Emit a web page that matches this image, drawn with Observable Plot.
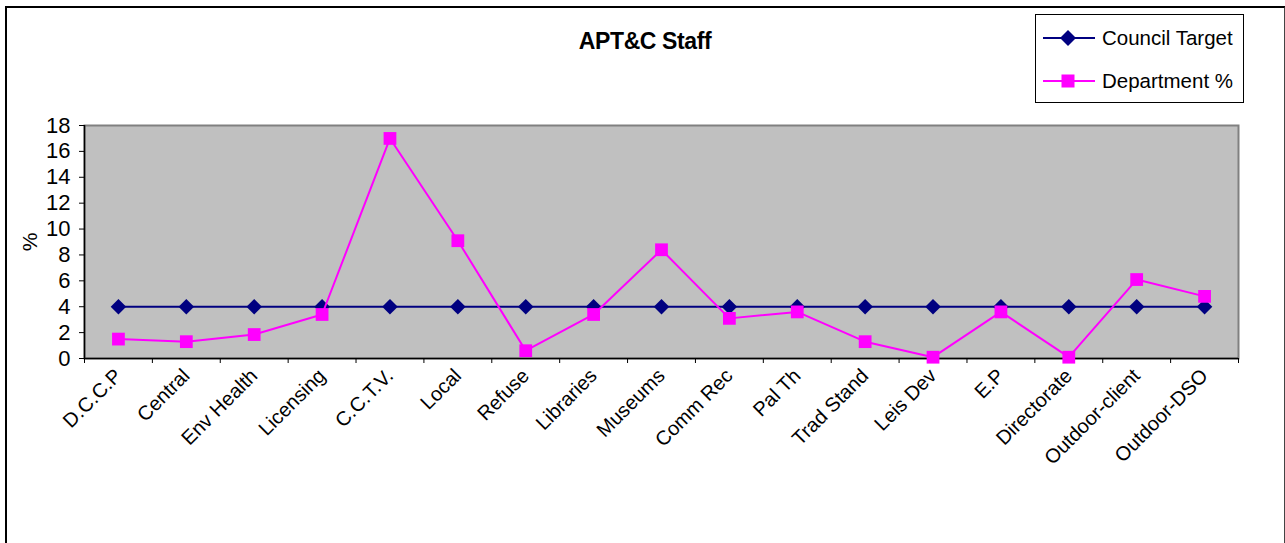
<!DOCTYPE html>
<html>
<head>
<meta charset="utf-8">
<script src="https://cdn.jsdelivr.net/npm/d3@7"></script>
<script src="https://cdn.jsdelivr.net/npm/@observablehq/plot@0.6"></script>
<style>
  html, body { margin: 0; padding: 0; background: #fff; overflow: hidden; }
  #wrap { position: relative; width: 1285px; height: 543px; font-family: "Liberation Sans", Arial, sans-serif; }
  #chart { position: absolute; left: 0; top: 0; }
  #border { position: absolute; left: 5px; top: 6px; width: 1277px; height: 600px; border-left: 2px solid #000; border-top: 2px solid #000; border-right: 2px solid #444; }
  #title { position: absolute; left: 0; width: 1290px; top: 28px; text-align: center; font-weight: bold; font-size: 23px; letter-spacing: -0.4px; color: #000; }
  #legend { position: absolute; left: 1035px; top: 14px; width: 207px; height: 87px; border: 1px solid #000; background: #fff; }
  .item { position: absolute; left: 6px; height: 30px; display: flex; align-items: center; font-size: 20.5px; color: #000; }
  .item svg { margin-right: 6px; }
</style>
</head>
<body>
<div id="wrap">
  <div id="border"></div>
  <div id="chart"></div>
  <div id="title">APT&amp;C Staff</div>
  <div id="legend"></div>
</div>
<script>
const categories = ["D.C.C.P", "Central", "Env Health", "Licensing", "C.C.T.V.", "Local", "Refuse", "Libraries", "Museums", "Comm Rec", "Pal Th", "Trad Stand", "Leis Dev", "E.P", "Directorate", "Outdoor-client", "Outdoor-DSO"];
const councilTarget = [4, 4, 4, 4, 4, 4, 4, 4, 4, 4, 4, 4, 4, 4, 4, 4, 4];
const departmentPct = [1.5, 1.3, 1.85, 3.4, 17.0, 9.1, 0.6, 3.4, 8.4, 3.1, 3.6, 1.3, 0.1, 3.6, 0.1, 6.1, 4.8];
const yTicks = [0, 2, 4, 6, 8, 10, 12, 14, 16, 18];
const yLabel = "%";
const seriesNames = ["Council Target", "Department %"];
const seriesColors = ["#000080", "#FF00FF"];

const rows = categories.map((c, i) => ({i, category: c, target: councilTarget[i], dept: departmentPct[i]}));
const centers = categories.map((_, i) => i);
const bounds = d3.range(categories.length + 1).map(i => i - 0.5);

const chart = Plot.plot({
  width: 1285,
  height: 543,
  marginTop: 125,
  marginBottom: 185,
  marginLeft: 84,
  marginRight: 47,
  style: {fontFamily: "'Liberation Sans', Arial, sans-serif", background: "transparent", color: "#000"},
  x: {type: "linear", domain: [-0.5, categories.length - 0.5], axis: null, label: null},
  y: {domain: [0, 18], axis: null, label: null},
  marks: [
    Plot.frame({fill: "#C0C0C0", stroke: "#808080", strokeWidth: 2}),
    Plot.ruleX([-0.5], {stroke: "#000", strokeWidth: 1.5}),
    Plot.ruleY([0], {stroke: "#000", strokeWidth: 1.5}),
    Plot.axisY(yTicks, {tickSize: 5, tickPadding: 9, fontSize: 22, stroke: "#000", label: null}),
    Plot.text([yLabel], {frameAnchor: "left", textAnchor: "middle", rotate: -90, dx: -54, fontSize: 21, fill: "#000"}),
    Plot.axisX(bounds, {tickSize: 5, tickFormat: () => "", stroke: "#000", label: null}),
    Plot.axisX(centers, {tickSize: 0, tickPadding: 14, tickRotate: -45, fontSize: 20, tickFormat: i => categories[i], label: null}),
    Plot.line(rows, {x: "i", y: "target", stroke: seriesColors[0], strokeWidth: 2}),
    Plot.dot(rows, {x: "i", y: "target", symbol: "diamond2", r: 7, fill: seriesColors[0], stroke: "none"}),
    Plot.line(rows, {x: "i", y: "dept", stroke: seriesColors[1], strokeWidth: 2}),
    Plot.dot(rows, {x: "i", y: "dept", symbol: "square", r: 7.2, fill: seriesColors[1], stroke: "none"})
  ]
});
document.getElementById("chart").appendChild(chart);

// legend
const legend = document.getElementById("legend");
seriesNames.forEach((name, k) => {
  const item = document.createElement("div");
  item.className = "item";
  item.style.top = (k === 0 ? 8 : 51) + "px";
  const sym = k === 0
    ? `<path d="M26,8 L34,16 L26,24 L18,16 Z" fill="${seriesColors[k]}"/>`
    : `<rect x="19.5" y="9.5" width="13" height="13" fill="${seriesColors[k]}"/>`;
  item.innerHTML = `<svg width="54" height="32"><line x1="1" x2="53" y1="16" y2="16" stroke="${seriesColors[k]}" stroke-width="2"/>${sym}</svg><span>${name}</span>`;
  legend.appendChild(item);
});
</script>
</body>
</html>
